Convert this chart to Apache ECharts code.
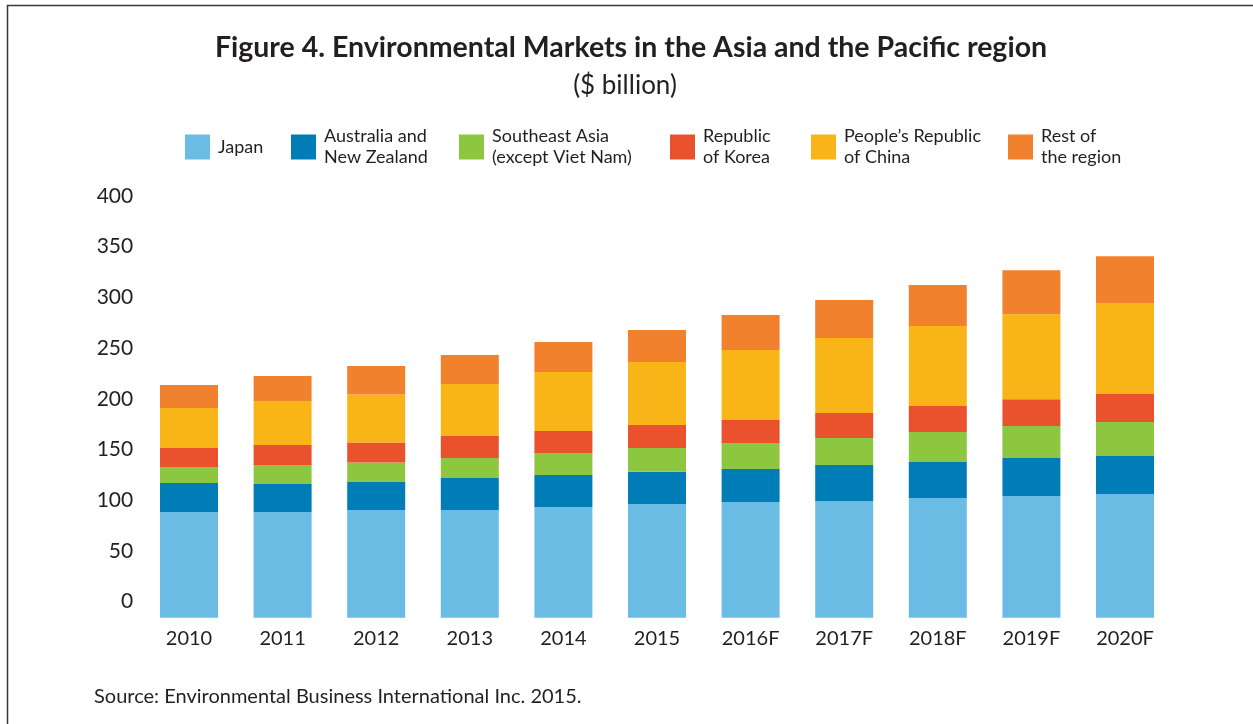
<!DOCTYPE html>
<html>
<head>
<meta charset="utf-8">
<script src="https://cdn.jsdelivr.net/npm/echarts@6/dist/echarts.min.js"></script>
<style>
  html, body { margin: 0; padding: 0; background: #ffffff; }
  #chart { width: 1253px; height: 724px; }
</style>
</head>
<body>
<div id="chart"></div>
<script>
// ---- data (US$ billion) ----
const categories = ['2010', '2011', '2012', '2013', '2014', '2015', '2016F', '2017F', '2018F', '2019F', '2020F'];
const japan     = [88.4, 88.4, 90.4, 90.4, 93.3, 96.4, 98.3, 99.2, 102.2, 104.2, 106.2];
const anz       = [28.6, 27.7, 28.1, 31.5, 31.6, 31.6, 32.6, 35.6, 35.5, 37.4, 37.4];
const seAsia    = [15.8, 18.7, 18.8, 19.7, 21.7, 23.6, 25.6, 26.6, 29.6, 31.5, 33.5];
const korea     = [18.7, 19.7, 19.7, 21.8, 21.7, 22.7, 22.7, 24.7, 25.6, 26.6, 27.6];
const china     = [39.4, 43.4, 47.3, 51.2, 58.1, 62.1, 69.0, 73.9, 78.9, 83.8, 89.7];
const rest      = [22.7, 24.6, 28.1, 28.6, 29.6, 31.5, 34.5, 37.5, 40.4, 43.4, 46.3];
const seriesNames = ['Japan', 'Australia and\nNew Zealand', 'Southeast Asia\n(except Viet Nam)', 'Republic\nof Korea', "People’s Republic\nof China", 'Rest of\nthe region'];
const seriesData  = [japan, anz, seAsia, korea, china, rest];
const colors      = ['#6bbce4', '#007db7', '#8dc63f', '#e9522c', '#f9b418', '#f2812d'];
const titleText = 'Figure 4. Environmental Markets in the Asia and the Pacific region';
const subtitleText = '($ billion)';
const sourceText = 'Source: Environmental Business International Inc. 2015.';

const textColor = '#231f20';
const FONT = 'Lato, "Open Sans", sans-serif';

const legendLefts = [185, 291, 459, 670, 811, 1008];

const chart = echarts.init(document.getElementById('chart'), null, { renderer: 'canvas' });

const legends = seriesNames.map((n, i) => {
  const twoLine = n.indexOf('\n') >= 0;
  return {
    data: [{ name: n, icon: 'rect' }],
    left: legendLefts[i],
    top: twoLine ? 126 : 134.5,
    itemWidth: 25,
    itemHeight: 25,
    selectedMode: false,
    padding: 0,
    textStyle: { fontFamily: FONT, fontSize: 18, lineHeight: 21, color: textColor, padding: [0, 0, 0, 3] }
  };
});

const option = {
  backgroundColor: '#ffffff',
  animation: false,
  color: colors,
  legend: legends,
  grid: { left: 142.2, right: 81.2, top: 196, bottom: 106.3, containLabel: false, outerBoundsMode: 'none' },
  xAxis: {
    type: 'category',
    data: categories,
    axisLine: { show: false },
    axisTick: { show: false },
    axisLabel: { fontFamily: FONT, fontSize: 20, color: textColor, margin: 11 }
  },
  yAxis: {
    type: 'value',
    min: -15.8,
    max: 400,
    startValue: -15.8,
    minInterval: 50,
    maxInterval: 50,
    splitNumber: 8,
    axisLine: { show: false },
    axisTick: { show: false },
    splitLine: { show: false },
    axisLabel: {
      fontFamily: FONT, fontSize: 21, color: textColor, margin: 9,
      formatter: v => (v < -0.5 ? '' : String(Math.round(v)))
    }
  },
  series: seriesData.map((d, i) => ({
    name: seriesNames[i],
    type: 'bar',
    stack: 'total',
    barWidth: 58,
    data: d,
    itemStyle: { color: colors[i] },
    emphasis: { disabled: true }
  })),
  graphic: [
    { type: 'polyline', silent: true,
      shape: { points: [[7.5, 724], [7.5, 5.5], [1253, 5.5]] },
      style: { stroke: '#3a3a3a', lineWidth: 1.5, fill: null } },
    { type: 'text', x: 631, y: 48, silent: true,
      style: { text: titleText, font: 'bold 28.5px ' + FONT, fill: textColor, align: 'center', verticalAlign: 'middle' } },
    { type: 'text', x: 625, y: 86, silent: true,
      style: { text: subtitleText, font: '26px ' + FONT, fill: textColor, align: 'center', verticalAlign: 'middle' } },
    { type: 'text', x: 94, y: 697, silent: true,
      style: { text: sourceText, font: '20px ' + FONT, fill: textColor, align: 'left', verticalAlign: 'middle' } }
  ]
};

chart.setOption(option);
</script>
</body>
</html>
